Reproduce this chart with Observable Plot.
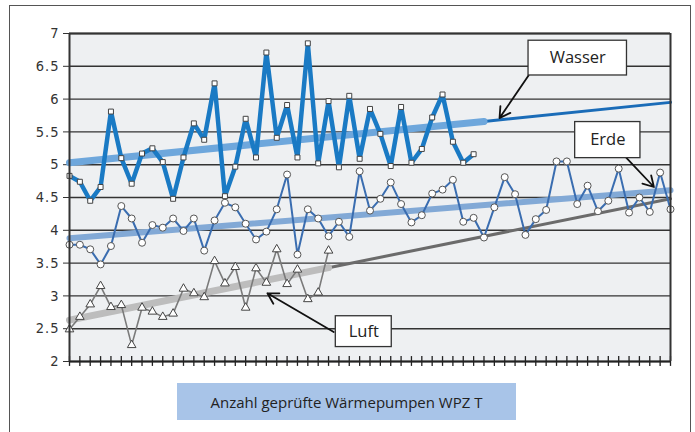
<!DOCTYPE html>
<html>
<head>
<meta charset="utf-8">
<script src="https://cdn.jsdelivr.net/npm/d3@7"></script>
<script src="https://cdn.jsdelivr.net/npm/@observablehq/plot@0.6"></script>
<style>
  html, body { margin: 0; padding: 0; background: #ffffff; }
  #wrap { position: relative; width: 695px; height: 432px; overflow: hidden; }
  #frame { position: absolute; left: 9px; top: 5px; width: 682px; height: 430px; border: 1.5px solid #555; box-sizing: border-box; pointer-events: none; }
  #caption { position: absolute; left: 177px; top: 383px; width: 339px; height: 37px; background: #a8c4e8;
    font-family: "Open Sans", sans-serif; font-size: 15px; color: #222; display: flex; align-items: center; justify-content: center; }
  #chart svg g[aria-label="y-axis tick label"] text { letter-spacing: 1px; }
</style>
</head>
<body>
<div id="wrap">
  <div id="chart"></div>
  <div id="frame"></div>
  <div id="caption">Anzahl geprüfte Wärmepumpen WPZ T</div>
</div>
<script>
// ---- data ----
const wasser = [4.83, 4.74, 4.45, 4.66, 5.81, 5.10, 4.71, 5.17, 5.25, 5.04, 4.48, 5.11, 5.63, 5.38, 6.24, 4.52, 4.97, 5.70, 5.11, 6.71,
                5.41, 5.91, 5.11, 6.85, 5.02, 5.97, 4.96, 6.05, 5.09, 5.85, 5.47, 4.98, 5.88, 5.03, 5.24, 5.72, 6.07, 5.35, 5.03, 5.16];
const erde = [3.78, 3.78, 3.71, 3.48, 3.76, 4.37, 4.18, 3.81, 4.08, 4.04, 4.18, 3.99, 4.18, 3.69, 4.15, 4.42, 4.35, 4.10, 3.86, 3.98,
              4.32, 4.85, 3.63, 4.32, 4.18, 3.91, 4.13, 3.90, 4.90, 4.30, 4.48, 4.73, 4.40, 4.12, 4.23, 4.56, 4.62, 4.77, 4.13, 4.19,
              3.89, 4.35, 4.81, 4.55, 3.93, 4.17, 4.31, 5.05, 5.05, 4.40, 4.68, 4.29, 4.45, 4.94, 4.27, 4.50, 4.28, 4.88, 4.32];
const luft = [2.49, 2.68, 2.87, 3.15, 2.83, 2.86, 2.25, 2.82, 2.76, 2.68, 2.73, 3.11, 3.04, 2.98, 3.53, 3.19, 3.44, 2.82, 3.42, 3.20,
              3.71, 3.18, 3.40, 2.95, 3.05, 3.69];

// trend lines: [index, value]
const wasserTrendThick = [[0, 5.03], [40, 5.66]];
const wasserTrendThin  = [[40, 5.66], [58, 5.95]];
const erdeTrend        = [[0, 3.88], [58, 4.61]];
const luftTrendThick   = [[0, 2.63], [25, 3.43]];
const luftTrendThin    = [[25, 3.43], [58, 4.48]];

const yTicks = [2, 2.5, 3, 3.5, 4, 4.5, 5, 5.5, 6, 6.5, 7];
const xTicks = d3.range(59);

// annotation labels (data units)
const labelNames = ["Wasser", "Erde", "Luft"];
const labelBoxX = [[44.3, 53.8], [48.8, 55.1], [25.7, 31.1]];
const labelBoxY = [[6.36, 6.89], [5.10, 5.65], [2.22, 2.69]];
const labelArrowFrom = [[44.3, 6.36], [53.7, 5.11], [25.5, 2.45]];
const labelArrowTo   = [[41.5, 5.71], [56.4, 4.66], [19.1, 3.04]];

const toPts = arr => arr.map((v, i) => ({i, v}));
const boxes = labelNames.map((n, k) => ({n, x1: labelBoxX[k][0], x2: labelBoxX[k][1], y1: labelBoxY[k][0], y2: labelBoxY[k][1]}));
const arrows = labelNames.map((n, k) => ({x1: labelArrowFrom[k][0], y1: labelArrowFrom[k][1], x2: labelArrowTo[k][0], y2: labelArrowTo[k][1]}));

const chart = Plot.plot({
  width: 695,
  height: 432,
  marginLeft: 69,
  marginRight: 25,
  marginTop: 33,
  marginBottom: 71,
  style: {fontFamily: "DejaVu Sans Condensed, DejaVu Sans, sans-serif", background: "transparent"},
  x: {domain: [0, 58], axis: null},
  y: {domain: [2, 7], axis: null},
  marks: [
    Plot.frame({fill: "#eef0f2", stroke: null}),
    Plot.gridY(yTicks, {stroke: "#333", strokeOpacity: 1, strokeWidth: 1.4}),
    Plot.axisY(yTicks, {tickSize: 6, tickPadding: 4, fontSize: 14.5, fill: "#333", stroke: "#333",
      tickFormat: d => Number.isInteger(d) ? String(d) : d.toFixed(1)}),
    Plot.ruleX(xTicks, {x: d => d, y1: 1.925, y2: 2.075, stroke: "#222", strokeWidth: 1.3}),
    // trends
    Plot.line(luftTrendThin, {x: d => d[0], y: d => d[1], stroke: "#6b6b6b", strokeWidth: 3}),
    Plot.line(luftTrendThick, {x: d => d[0], y: d => d[1], stroke: "#bdbdbd", strokeWidth: 7}),
    Plot.line(erdeTrend, {x: d => d[0], y: d => d[1], stroke: "#82a9d6", strokeWidth: 6}),
    Plot.line(wasserTrendThin, {x: d => d[0], y: d => d[1], stroke: "#1a6cb8", strokeWidth: 3}),
    Plot.line(wasserTrendThick, {x: d => d[0], y: d => d[1], stroke: "#6ea7dc", strokeWidth: 7}),
    // series
    Plot.line(toPts(luft), {x: "i", y: "v", stroke: "#7a7a7a", strokeWidth: 1.6}),
    Plot.dot(toPts(luft), {x: "i", y: "v", symbol: "triangle", r: 3.2, fill: "white", stroke: "#444", strokeWidth: 1}),
    Plot.line(toPts(erde), {x: "i", y: "v", stroke: "#3a6db0", strokeWidth: 2}),
    Plot.dot(toPts(erde), {x: "i", y: "v", symbol: "circle", r: 3.5, fill: "white", stroke: "#555", strokeWidth: 1}),
    Plot.line(toPts(wasser), {x: "i", y: "v", stroke: "#1a7ac4", strokeWidth: 4.5}),
    Plot.dot(toPts(wasser), {x: "i", y: "v", symbol: "square", r: 2.8, fill: "white", stroke: "#444", strokeWidth: 1}),
    // frame / axis lines
    Plot.ruleY([2], {stroke: "#222", strokeWidth: 2}),
    Plot.ruleX([0, 58], {stroke: "#333", strokeWidth: 2}),
    Plot.ruleY([7], {stroke: "#333", strokeWidth: 2}),
    // annotations
    Plot.arrow(arrows, {x1: "x1", y1: "y1", x2: "x2", y2: "y2", stroke: "#111", strokeWidth: 1.8, headLength: 10}),
    Plot.rect(boxes, {x1: "x1", x2: "x2", y1: "y1", y2: "y2", fill: "white", stroke: "#333", strokeWidth: 1.3}),
    Plot.text(boxes, {x: d => (d.x1 + d.x2) / 2, y: d => (d.y1 + d.y2) / 2, text: "n", fontSize: 16.5,
      fontFamily: "Open Sans, sans-serif", fill: "#222"})
  ]
});
document.getElementById("chart").appendChild(chart);
</script>
</body>
</html>
